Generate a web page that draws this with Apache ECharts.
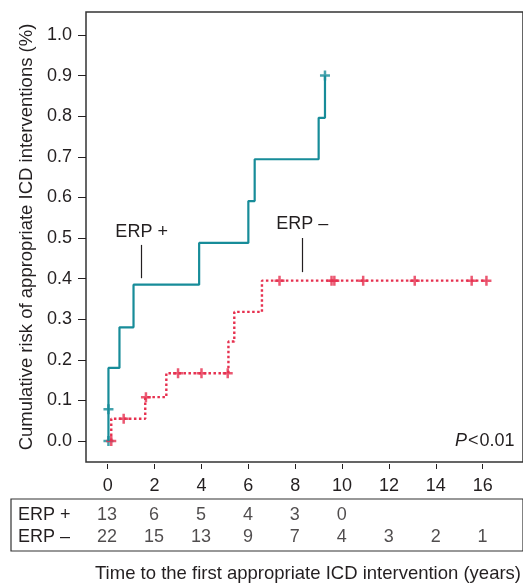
<!DOCTYPE html>
<html>
<head>
<meta charset="utf-8">
<script src="https://cdn.jsdelivr.net/npm/echarts@6/dist/echarts.min.js"></script>
<style>
  html, body { margin: 0; padding: 0; background: #fff; }
  #chart { width: 523px; height: 583px; }
</style>
</head>
<body>
<div id="chart"></div>
<script>
// Kaplan-Meier step points [years, cumulative risk]
const erpPlusSteps = [[0.03, 0], [0.03, 0.18], [0.5, 0.28], [1.1, 0.385], [3.9, 0.488], [6.0, 0.591], [6.27, 0.694], [9.0, 0.796], [9.27, 0.90]];
const erpMinusSteps = [[0.15, 0], [0.15, 0.055], [1.6, 0.108], [2.5, 0.167], [5.15, 0.245], [5.4, 0.318], [6.58, 0.395], [16.16, 0.395]];

// censored marks
const erpPlusCensored = [[0.03, 0], [0.03, 0.078], [9.27, 0.90]];
const erpMinusCensored = [[0.15, 0], [0.68, 0.055], [1.63, 0.108], [3.0, 0.167], [4.0, 0.167], [5.12, 0.167],
  [7.33, 0.395], [9.55, 0.395], [9.67, 0.395], [10.9, 0.395], [13.1, 0.395], [15.53, 0.395], [16.16, 0.395]];

// numbers at risk
const riskTimes = [0, 2, 4, 6, 8, 10, 12, 14, 16];
const erpPlusAtRisk = [13, 6, 5, 4, 3, 0];
const erpMinusAtRisk = [22, 15, 13, 9, 7, 4, 3, 2, 1];
const riskRows = ["ERP \u2013", "ERP +"];

const xTicks = [0, 2, 4, 6, 8, 10, 12, 14, 16];
const yTicks = [0, 0.1, 0.2, 0.3, 0.4, 0.5, 0.6, 0.7, 0.8, 0.9, 1.0];

const teal = "#178c99";
const red = "#e6304f";
const ink = "#231f20";
const font = "Liberation Sans";
const fs = 18;
const plus = "path://M3,0h2v3h3v2h-3v3h-2v-3h-3v-2h3z";

const chart = echarts.init(document.getElementById("chart"));

chart.setOption({
  animation: false,
  textStyle: { fontFamily: font, color: ink },
  title: [
    {
      text: "Time to the first appropriate ICD intervention (years)",
      left: 95,
      top: 564,
      padding: 0,
      textStyle: { fontFamily: font, fontSize: 18.5, fontWeight: "normal", color: ink }
    },
    {
      text: "{i|P}{n|<}{n|0.01}",
      left: 455,
      top: 432,
      padding: 0,
      textStyle: {
        fontWeight: "normal",
        rich: {
          i: { fontFamily: font, fontSize: fs, fontStyle: "italic", fontWeight: "normal", color: ink },
          n: { fontFamily: font, fontSize: fs, fontWeight: "normal", color: ink, padding: [0, 0, 0, 1] }
        }
      }
    }
  ],
  grid: [
    { left: 86, right: -5, top: 12, bottom: 121, show: true, borderColor: "#333", borderWidth: 1.5, backgroundColor: "transparent" },
    { left: 11, right: -5, top: 499, height: 52, show: true, borderColor: "#333", borderWidth: 1.2, backgroundColor: "transparent" }
  ],
  xAxis: [
    {
      type: "value",
      gridIndex: 0,
      min: -0.928,
      max: 17.72,
      offset: 2,
      axisLine: { show: false, onZero: false },
      splitLine: { show: false },
      axisTick: { show: true, length: 5, customValues: xTicks, lineStyle: { color: ink, width: 1 } },
      axisLabel: { customValues: xTicks, fontSize: fs, color: ink, margin: 13, fontFamily: font }
    },
    {
      type: "value",
      gridIndex: 1,
      min: -4.093,
      max: 17.72,
      show: false
    }
  ],
  yAxis: [
    {
      type: "value",
      gridIndex: 0,
      min: -0.0517,
      max: 1.0567,
      name: "Cumulative risk of appropriate ICD interventions (%)",
      nameLocation: "middle",
      nameGap: 49,
      nameTextStyle: { fontSize: 18.5, color: ink, fontFamily: font },
      axisLine: { show: false, onZero: false },
      splitLine: { show: false },
      axisTick: { show: true, length: 8, customValues: yTicks, lineStyle: { color: ink, width: 1 } },
      axisLabel: {
        customValues: yTicks,
        fontSize: fs,
        color: ink,
        margin: 14,
        fontFamily: font,
        formatter: v => v.toFixed(1)
      }
    },
    {
      type: "value",
      gridIndex: 1,
      min: -0.636,
      max: 1.727,
      axisLine: { show: false, onZero: false },
      axisTick: { show: false },
      splitLine: { show: false },
      axisLabel: {
        customValues: [0, 1],
        inside: true,
        margin: 7,
        fontSize: fs,
        color: ink,
        fontFamily: font,
        formatter: v => riskRows[Math.round(v)]
      }
    }
  ],
  series: [
    {
      name: "ERP +",
      type: "line",
      step: "end",
      xAxisIndex: 0,
      yAxisIndex: 0,
      showSymbol: false,
      silent: true,
      data: erpPlusSteps,
      lineStyle: { color: teal, width: 2.2 },
      markLine: {
        silent: true,
        symbol: ["none", "none"],
        lineStyle: { color: ink, width: 1.2, type: "solid" },
        label: { show: true, position: "end", distance: 4, formatter: "ERP +", fontSize: fs, color: ink, fontFamily: font },
        data: [[{ coord: [1.446, 0.401] }, { coord: [1.446, 0.483] }]]
      }
    },
    {
      name: "ERP \u2013",
      type: "line",
      step: "end",
      xAxisIndex: 0,
      yAxisIndex: 0,
      showSymbol: false,
      silent: true,
      data: erpMinusSteps,
      lineStyle: { color: red, width: 2.4, type: [2.5, 2.5] },
      markLine: {
        silent: true,
        symbol: ["none", "none"],
        lineStyle: { color: ink, width: 1.2, type: "solid" },
        label: { show: true, position: "end", distance: 5, formatter: "ERP \u2013", fontSize: fs, color: ink, fontFamily: font },
        data: [[{ coord: [8.30, 0.416] }, { coord: [8.30, 0.50] }]]
      }
    },
    {
      type: "scatter",
      xAxisIndex: 0,
      yAxisIndex: 0,
      silent: true,
      symbol: plus,
      symbolSize: 10,
      itemStyle: { color: teal },
      data: erpPlusCensored
    },
    {
      type: "scatter",
      xAxisIndex: 0,
      yAxisIndex: 0,
      silent: true,
      symbol: plus,
      symbolSize: 10,
      itemStyle: { color: red },
      data: erpMinusCensored
    },
    {
      type: "scatter",
      xAxisIndex: 1,
      yAxisIndex: 1,
      silent: true,
      symbolSize: 1,
      itemStyle: { color: "rgba(0,0,0,0)" },
      label: { show: true, position: "inside", fontSize: fs, color: ink, fontFamily: font, formatter: p => p.value[2] },
      data: erpPlusAtRisk.map((n, i) => [riskTimes[i], 1, n])
    },
    {
      type: "scatter",
      xAxisIndex: 1,
      yAxisIndex: 1,
      silent: true,
      symbolSize: 1,
      itemStyle: { color: "rgba(0,0,0,0)" },
      label: { show: true, position: "inside", fontSize: fs, color: ink, fontFamily: font, formatter: p => p.value[2] },
      data: erpMinusAtRisk.map((n, i) => [riskTimes[i], 0, n])
    }
  ]
});
</script>
</body>
</html>
